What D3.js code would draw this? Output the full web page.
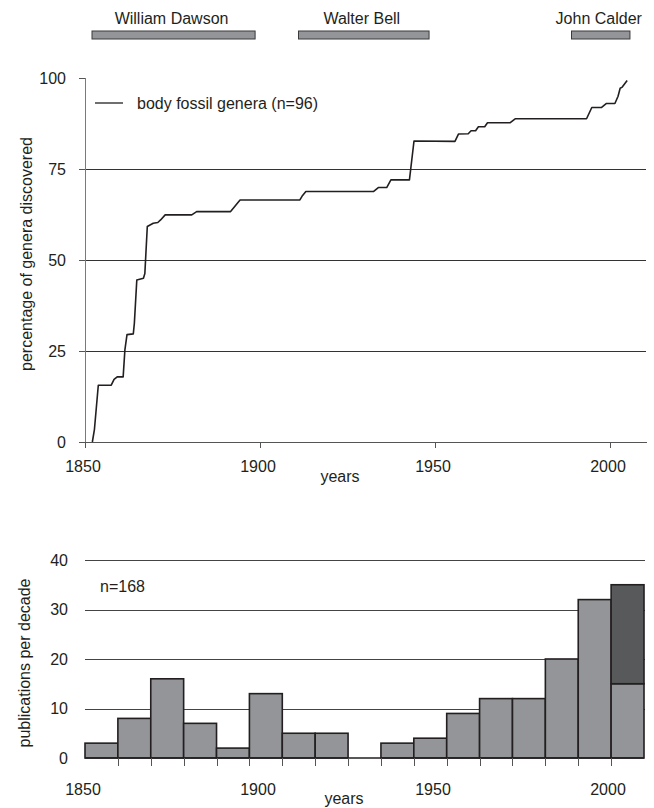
<!DOCTYPE html>
<html><head><meta charset="utf-8">
<script src="https://cdn.jsdelivr.net/npm/d3@7/dist/d3.min.js"></script>
<style>
body{margin:0;background:#fff}
text{font-family:"Liberation Sans",Arial,sans-serif;fill:#231f20;font-size:16px}
</style>
</head><body><svg id="c" width="654" height="808"></svg>
<script>
// ---- data ----
const people = ["William Dawson", "Walter Bell", "John Calder"];
const careerStart = [1852, 1911, 1989];
const careerEnd = [1898.6, 1948.3, 2005.7];

const discoveryYear = [1852.1, 1852.7, 1853.8, 1857.5, 1858.3, 1859.2, 1860.9, 1861.4, 1862.0, 1863.8,
  1864.1, 1864.8, 1866.7, 1867.1, 1867.8, 1869.5, 1870.8, 1871.6, 1872.9, 1880.5, 1881.9, 1891.6, 1894.3,
  1911.4, 1912.0, 1913.1, 1932.4, 1933.8, 1936.2, 1937.4, 1942.7, 1944.0, 1955.7, 1956.7, 1959.5, 1960.3,
  1961.6, 1962.4, 1964.2, 1965.0, 1971.4, 1972.9, 1993.3, 1994.8, 1997.6, 1999.0, 2001.4, 2002.3, 2002.9,
  2003.5, 2004.9];
const percentDiscovered = [0, 3.5, 15.6, 15.6, 17.2, 17.9, 17.9, 25.3, 29.5, 29.7,
  32.6, 44.5, 45.0, 46.3, 59.2, 60.1, 60.3, 61.0, 62.4, 62.4, 63.3, 63.3, 66.5,
  66.5, 67.5, 68.8, 68.8, 69.9, 69.9, 72.0, 72.0, 82.7, 82.6, 84.6, 84.7, 85.5,
  85.5, 86.6, 86.6, 87.7, 87.7, 88.8, 88.8, 91.9, 91.9, 93.0, 93.0, 95.0, 97.2,
  97.5, 99.3];

const decades = [1850, 1860, 1870, 1880, 1890, 1900, 1910, 1920, 1930, 1940, 1950, 1960, 1970, 1980, 1990, 2000, 2010];
const publications = [3, 8, 16, 7, 2, 13, 5, 5, 0, 3, 4, 9, 12, 12, 20, 32, 15];
const recentExtra = [0, 0, 0, 0, 0, 0, 0, 0, 0, 0, 0, 0, 0, 0, 0, 0, 20];

const percentTicks = [0, 25, 50, 75, 100];
const percentGrid = [25, 50, 75];
const yearTicks = [1850, 1900, 1950, 2000];
const pubTicks = [0, 10, 20, 30, 40];
const pubGrid = [10, 20, 30, 40];

// ---- drawing ----
const svg = d3.select("#c");
const ink = "#231f20";
const barFill = "#939598";
const darkFill = "#58595b";

const x = d3.scaleLinear().domain([1850, 2010.5]).range([85, 646.75]);
const y = d3.scaleLinear().domain([0, 100]).range([442, 78]);

// career bars
const g0 = svg.append("g");
people.forEach((p, i) => {
  g0.append("rect").attr("x", x(careerStart[i])).attr("y", 31)
    .attr("width", x(careerEnd[i]) - x(careerStart[i])).attr("height", 8)
    .attr("fill", barFill).attr("stroke", "#3a3a3a").attr("stroke-width", 1);
  g0.append("text").attr("x", (x(careerStart[i]) + x(careerEnd[i])) / 2 - 2).attr("y", 24)
    .attr("text-anchor", "middle").text(p);
});

// top chart
const g1 = svg.append("g");
g1.selectAll("line.grid").data(percentGrid).join("line")
  .attr("x1", 85).attr("x2", 646).attr("y1", d => Math.round(y(d)) + 0.5).attr("y2", d => Math.round(y(d)) + 0.5)
  .attr("stroke", "#333").attr("stroke-width", 1);
// y axis
g1.append("line").attr("x1", 85.5).attr("x2", 85.5).attr("y1", y(100)).attr("y2", y(0))
  .attr("stroke", "#7a7a7a").attr("stroke-width", 1);
g1.selectAll("line.yt").data(percentTicks).join("line")
  .attr("x1", 79).attr("x2", 85).attr("y1", d => Math.round(y(d)) + 0.5).attr("y2", d => Math.round(y(d)) + 0.5)
  .attr("stroke", "#555");
g1.selectAll("text.yl").data(percentTicks).join("text")
  .attr("x", 66).attr("y", d => y(d)).attr("dy", "0.35em").attr("text-anchor", "end").text(d => d);
// x axis
g1.append("line").attr("x1", 85).attr("x2", 647).attr("y1", 442.5).attr("y2", 442.5)
  .attr("stroke", "#555").attr("stroke-width", 1);
g1.selectAll("line.xt").data(yearTicks).join("line")
  .attr("x1", d => Math.round(x(d)) + 0.5).attr("x2", d => Math.round(x(d)) + 0.5).attr("y1", 442).attr("y2", 448)
  .attr("stroke", "#555");
g1.selectAll("text.xl").data(yearTicks).join("text")
  .attr("x", d => x(d) - 2).attr("y", 472).attr("text-anchor", "middle").text(d => d);
g1.append("text").attr("x", 340).attr("y", 482).attr("text-anchor", "middle").text("years");
g1.append("text").attr("transform", "translate(26,254) rotate(-90)").attr("dy", "0.35em")
  .attr("text-anchor", "middle").text("percentage of genera discovered");

const pts = discoveryYear.map((d, i) => [d, percentDiscovered[i]]);
g1.append("path").datum(pts)
  .attr("d", d3.line().x(d => x(d[0])).y(d => y(d[1])))
  .attr("fill", "none").attr("stroke", ink).attr("stroke-width", 1.6).attr("stroke-linejoin", "round");

// legend
g1.append("line").attr("x1", 95).attr("x2", 123).attr("y1", 103).attr("y2", 103).attr("stroke", ink).attr("stroke-width", 1.3);
g1.append("text").attr("x", 137).attr("y", 103).attr("dy", "0.35em").text("body fossil genera (n=96)");

// bottom chart
const xb = d3.scaleBand().domain(decades).range([85, 644]).padding(0);
const yb = d3.scaleLinear().domain([0, 40]).range([758, 560]);
const g2 = svg.append("g");
g2.selectAll("line.grid").data(pubGrid).join("line")
  .attr("x1", 85).attr("x2", 645).attr("y1", d => Math.round(yb(d)) + 0.5).attr("y2", d => Math.round(yb(d)) + 0.5)
  .attr("stroke", "#444").attr("stroke-width", 1);
g2.selectAll("text.yl").data(pubTicks).join("text")
  .attr("x", 68).attr("y", d => yb(d)).attr("dy", "0.35em").attr("text-anchor", "end").text(d => d);

const bars = decades.map((d, i) => ({d, v: publications[i], e: recentExtra[i]})).filter(b => b.v > 0);
g2.selectAll("rect.b").data(bars).join("rect")
  .attr("x", b => xb(b.d)).attr("width", xb.bandwidth())
  .attr("y", b => yb(b.v)).attr("height", b => yb(0) - yb(b.v))
  .attr("fill", barFill).attr("stroke", ink).attr("stroke-width", 1.6);
g2.selectAll("rect.e").data(bars.filter(b => b.e > 0)).join("rect")
  .attr("x", b => xb(b.d)).attr("width", xb.bandwidth())
  .attr("y", b => yb(b.v + b.e)).attr("height", b => yb(b.v) - yb(b.v + b.e))
  .attr("fill", darkFill).attr("stroke", ink).attr("stroke-width", 1.6);

g2.append("line").attr("x1", 85).attr("x2", 644).attr("y1", yb(0)).attr("y2", yb(0))
  .attr("stroke", ink).attr("stroke-width", 1.6);
g2.selectAll("line.bt").data(decades.slice(1)).join("line")
  .attr("x1", d => Math.round(xb(d)) + 0.5).attr("x2", d => Math.round(xb(d)) + 0.5)
  .attr("y1", 758).attr("y2", 766).attr("stroke", "#555");
g2.selectAll("text.xl").data(yearTicks).join("text")
  .attr("x", d => x(d) - 2).attr("y", 795).attr("text-anchor", "middle").text(d => d);
g2.append("text").attr("x", 344).attr("y", 804).attr("text-anchor", "middle").text("years");
g2.append("text").attr("transform", "translate(24,663) rotate(-90)").attr("dy", "0.35em")
  .attr("text-anchor", "middle").text("publications per decade");
g2.append("text").attr("x", 100).attr("y", 592).text("n=168");
</script>
</body></html>
